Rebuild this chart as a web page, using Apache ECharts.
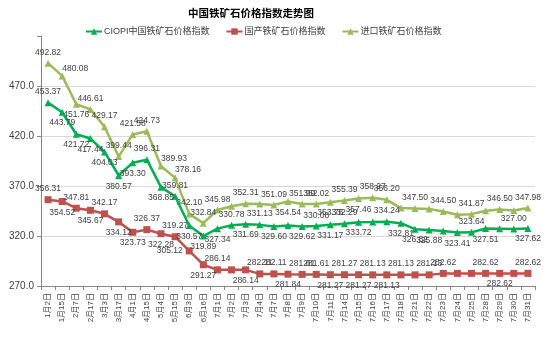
<!DOCTYPE html>
<html>
<head>
<meta charset="utf-8">
<script src="https://cdn.jsdelivr.net/npm/echarts@6/dist/echarts.min.js"></script>
<style>
html, body { margin: 0; padding: 0; background: #fff; }
#chart { width: 554px; height: 339px; }
</style>
</head>
<body>
<div id="chart"></div>
<script>
// 日期
var dates = ['1月2日','1月15日','2月7日','2月17日','3月3日','3月17日','4月1日','4月15日','5月4日','5月15日',
    '6月3日','6月16日','7月1日','7月2日','7月3日','7月4日','7月7日','7月8日','7月9日','7月10日',
    '7月11日','7月14日','7月15日','7月16日','7月17日','7月18日','7月21日','7月22日','7月23日','7月24日',
    '7月25日','7月28日','7月29日','7月30日','7月31日'];

// CIOPI中国铁矿石价格指数
var ciopi = [453.37,443.79,421.72,417.44,404.03,380.57,393.30,396.31,368.85,359.81,
    330.57,319.89,327.34,330.78,331.69,331.13,329.60,330.40,329.62,330.08,
    331.17,332.29,333.72,333.90,334.24,332.81,326.82,325.88,325.00,323.41,
    323.64,327.51,327.30,327.00,327.62];

// 国产铁矿石价格指数
var domestic = [356.31,354.52,347.81,345.67,342.17,334.12,323.73,326.37,322.28,319.27,
    305.12,291.27,286.14,286.14,286.14,282.11,282.11,281.84,281.61,281.61,
    281.27,281.27,281.27,281.13,281.13,281.13,281.13,281.13,282.62,282.62,
    282.62,282.62,282.62,282.62,282.62];

// 进口铁矿石价格指数
var imported = [492.82,480.08,451.76,446.61,429.17,399.44,421.58,424.73,389.93,378.16,
    342.10,332.84,345.98,349.80,352.31,352.00,351.09,354.54,351.99,352.02,
    353.76,355.39,357.46,358.27,356.20,347.90,347.50,346.90,344.50,341.30,
    341.87,345.20,346.50,345.60,347.98];

var yTicks = { min: 270, max: 520, interval: 50 };

// 标签位置: t上 b下 r右上 l左 -不显示
var ciopiLbl    = 't b b b b b b t b t b b b t b t b - b t b t b - t b b b - b t b - t b'.split(' ');
var domesticLbl = 't b t b t b b t b t l b t - b t t b t t b t b t b t - t t - - t b - t'.split(' ');
var importedLbl = 't r b t t t t t r r t t t - t - t b t t b t b t t - t - t - t - t - t'.split(' ');

var fontCn = '"Liberation Sans", "Noto Sans CJK SC", sans-serif';

var myChart = echarts.init(document.getElementById('chart'));

function withLabels(values, codes) {
    return values.map(function (v, i) {
        var c = codes[i];
        var l = {};
        if (c === '-') l.show = false;
        else if (c === 'b') l.position = 'bottom';
        else if (c === 'l') l.position = 'left';
        else if (c === 'r') { l.position = 'top'; l.offset = [13, 3]; }
        else l.position = 'top';
        return { value: v, label: l };
    });
}

var baseLabel = {
    show: true,
    distance: 3,
    fontSize: 8.5,
    color: '#404040',
    fontFamily: fontCn,
    formatter: function (p) { return p.value.toFixed(2); }
};

var option = {
    animation: false,
    title: {
        text: '中国铁矿石价格指数走势图',
        left: 183,
        top: 4,
        textStyle: { fontSize: 10.5, fontWeight: 'bold', color: '#000', fontFamily: fontCn }
    },
    legend: {
        top: 22,
        left: 80,
        itemGap: 16,
        itemWidth: 16,
        itemHeight: 8,
        textStyle: { fontSize: 9, color: '#404040', fontFamily: fontCn, padding: [0, 0, 0, -3] },
        data: ['CIOPI中国铁矿石价格指数', '国产铁矿石价格指数', '进口铁矿石价格指数']
    },
    grid: { left: 41, right: 19, top: 36, bottom: 53 },
    xAxis: {
        type: 'category',
        data: dates,
        boundaryGap: true,
        axisLine: { lineStyle: { color: '#868686' } },
        axisTick: { show: true, length: 4, lineStyle: { color: '#868686' } },
        axisLabel: { rotate: 90, interval: 0, fontSize: 8, color: '#404040', fontFamily: fontCn, margin: 7 }
    },
    yAxis: {
        type: 'value',
        min: yTicks.min,
        max: yTicks.max,
        interval: yTicks.interval,
        axisLine: { show: true, lineStyle: { color: '#868686' } },
        axisTick: { show: true, length: 4, lineStyle: { color: '#868686' } },
        axisLabel: {
            fontSize: 10, color: '#404040', fontFamily: fontCn, margin: 7,
            formatter: function (v) { return v >= yTicks.max ? '' : v.toFixed(1); }
        },
        splitLine: { lineStyle: { color: ['#d9d9d9', '#d9d9d9', '#d9d9d9', '#d9d9d9', '#d9d9d9', 'rgba(0,0,0,0)'] } }
    },
    series: [{
        name: 'CIOPI中国铁矿石价格指数',
        type: 'line',
        data: withLabels(ciopi, ciopiLbl),
        symbol: 'triangle',
        symbolSize: 7,
        color: '#00B050',
        lineStyle: { width: 2.5 },
        label: baseLabel,
        z: 3
    }, {
        name: '国产铁矿石价格指数',
        type: 'line',
        data: withLabels(domestic, domesticLbl),
        symbol: 'rect',
        symbolSize: 7,
        color: '#C0504D',
        lineStyle: { width: 2.5 },
        label: baseLabel,
        z: 2
    }, {
        name: '进口铁矿石价格指数',
        type: 'line',
        data: withLabels(imported, importedLbl),
        symbol: 'triangle',
        symbolSize: 7,
        color: '#9BBB59',
        lineStyle: { width: 2.5 },
        label: baseLabel,
        z: 1
    }]
};

myChart.setOption(option);
</script>
</body>
</html>
